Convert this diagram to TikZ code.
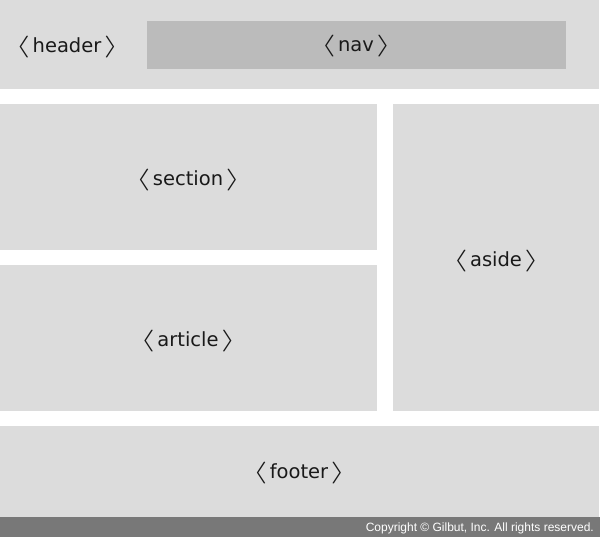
\documentclass[tikz,border=0pt]{standalone}
\usepackage{fontspec}
\setmainfont{DejaVu Sans}
\newfontfamily\arialfont{Liberation Sans}
\definecolor{boxgray}{HTML}{DCDCDC}
\definecolor{navgray}{HTML}{BBBBBB}
\definecolor{bargray}{HTML}{787878}
\newcommand{\lb}{\scalebox{1.8}[1.05]{$\langle$}\kern2.5pt}
\newcommand{\rb}{\kern2.5pt\scalebox{1.8}[1.05]{$\rangle$}}
\begin{document}
\begin{tikzpicture}[x=1pt,y=-1pt,
  region/.style={fill=boxgray,draw=none},
  lbl/.style={font=\fontsize{19.5}{23}\selectfont,text=black!90}]
\useasboundingbox (0,0) rectangle (600,537);
\fill[white] (0,0) rectangle (600,537);
% regions
\path[region] (0,0) rectangle (599,89);
\path[fill=navgray] (147,21) rectangle (566,69);
\path[region] (0,104) rectangle (377,250);
\path[region] (0,265) rectangle (377,411);
\path[region] (393,104) rectangle (599,411);
\path[region] (0,426) rectangle (599,517);
\fill[bargray] (0,517) rectangle (600,537);
% labels
\node[lbl] (header) at (67,47) {\lb header\rb};
\node[lbl] (nav) at (356,46) {\lb nav\rb};
\node[lbl] (section) at (188,180) {\lb section\rb};
\node[lbl] (article) at (188,341) {\lb article\rb};
\node[lbl] (aside) at (496,261) {\lb aside\rb};
\node[lbl] (footer) at (299,473) {\lb footer\rb};
\node[anchor=east,text=white,font=\arialfont\fontsize{12}{14}\selectfont,inner sep=0pt] (copy) at (594,528) {Copyright © Gilbut, Inc. All rights reserved.};
\end{tikzpicture}
\end{document}
